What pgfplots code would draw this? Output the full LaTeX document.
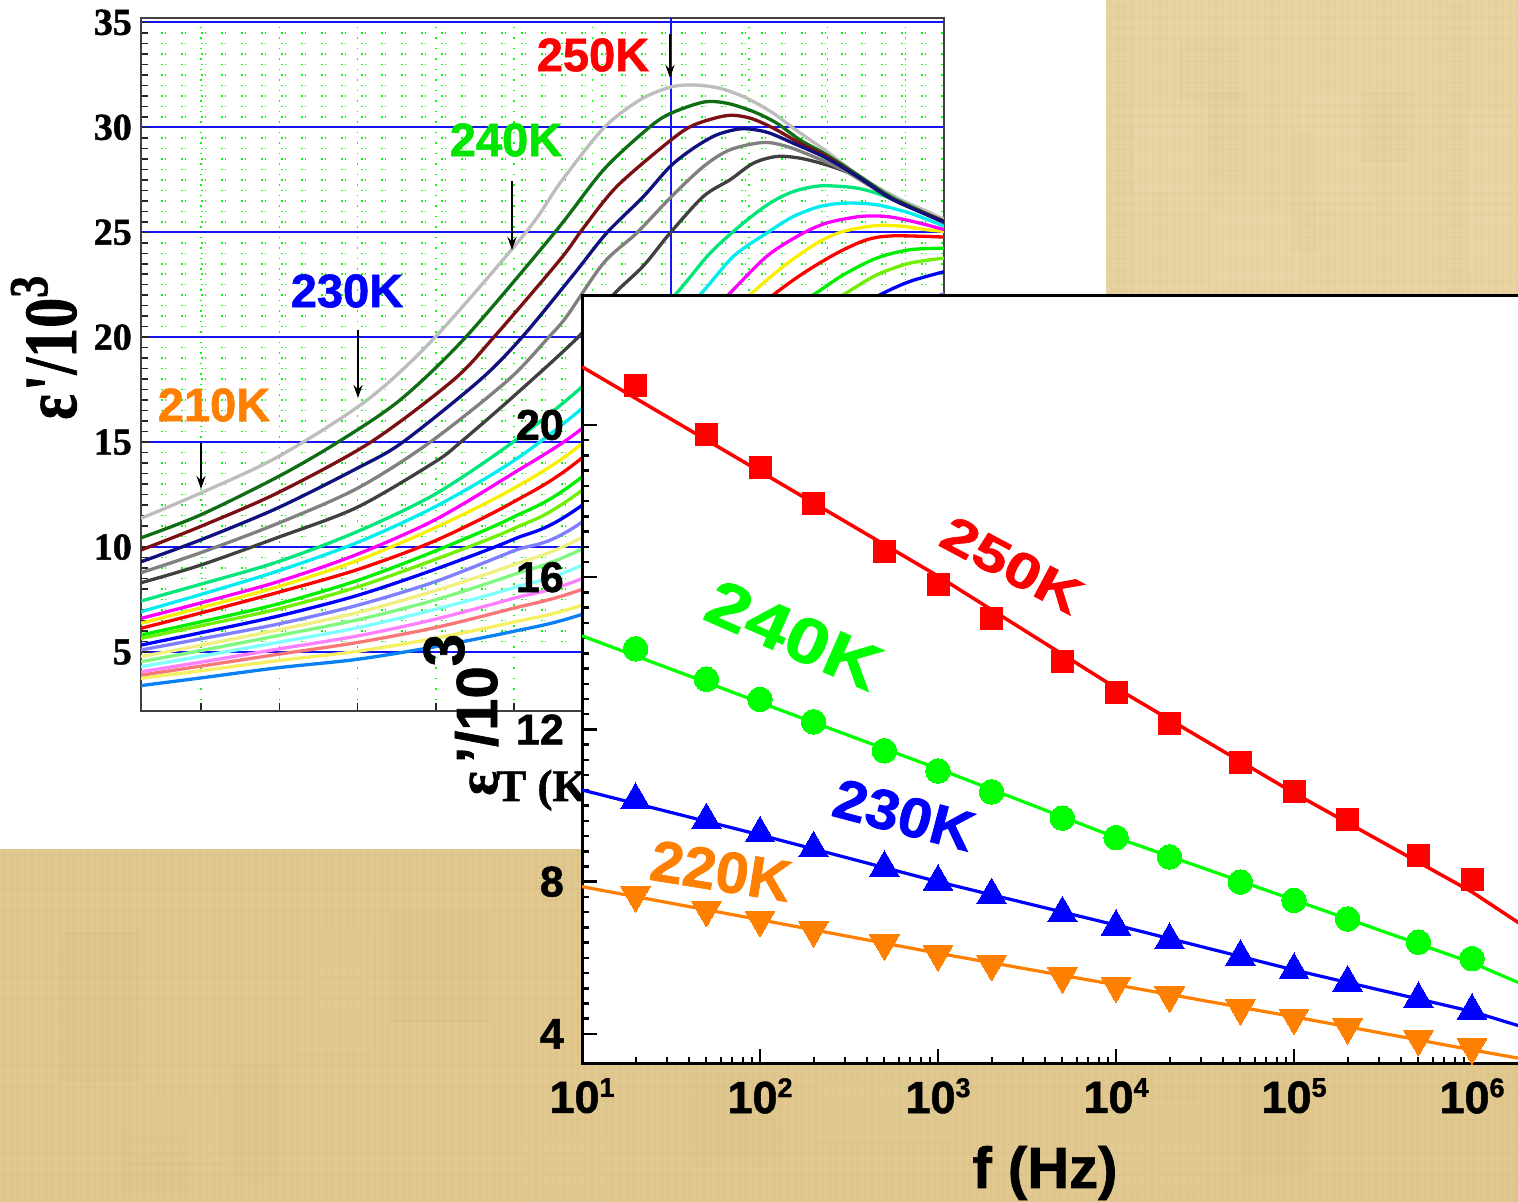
\documentclass[border=0pt]{standalone}
\usepackage{fontspec}
\usepackage{pgfplots}
\usepackage{graphicx}
\pgfplotsset{compat=1.18}
\usetikzlibrary{arrows.meta}
\setmainfont[BoldFeatures={FakeBold=1.2}]{Liberation Sans}
\newfontfamily\plainsans{Liberation Sans}
\newfontfamily\serif[BoldFeatures={FakeBold=1.2}]{Liberation Serif}
\newcommand{\fs}[1]{\fontsize{#1}{#1}\selectfont}
\newcommand{\ee}[1]{10\raisebox{16pt}{\fs{27}#1}}
\definecolor{tanA}{HTML}{E8D4A2}
\definecolor{tanB}{HTML}{E0C88F}
\definecolor{tanD}{HTML}{B8965A}
\definecolor{tanL}{HTML}{F3E4BC}
\definecolor{cGray}{HTML}{BDBDBD}
\definecolor{cDkGreen}{HTML}{0F6E14}
\definecolor{cDkRed}{HTML}{7A1014}
\definecolor{cNavy}{HTML}{10107E}
\definecolor{cGrayB}{HTML}{808080}
\definecolor{cDkGray}{HTML}{404040}
\definecolor{cSpring}{HTML}{00E67A}
\definecolor{cCyan}{HTML}{00EEEE}
\definecolor{cMag}{HTML}{FF00FF}
\definecolor{cYel}{HTML}{F8F000}
\definecolor{cRed}{HTML}{FF0000}
\definecolor{cGreen}{HTML}{00F000}
\definecolor{cLime}{HTML}{70F000}
\definecolor{cBlue}{HTML}{0000FF}
\definecolor{cPeri}{HTML}{7F7FFF}
\definecolor{cLtYel}{HTML}{F0F080}
\definecolor{cLtGr}{HTML}{80F880}
\definecolor{cLtCy}{HTML}{80FFFF}
\definecolor{cLtMag}{HTML}{FF80FF}
\definecolor{cLtRed}{HTML}{F87878}
\definecolor{cLtYelB}{HTML}{F5F060}
\definecolor{cBlueB}{HTML}{0A80F5}
\definecolor{cOrange}{HTML}{FF8000}
\definecolor{gridBlue}{HTML}{1414F5}
\begin{document}
\begin{tikzpicture}[x=1pt,y=1pt]
\useasboundingbox (0,0) rectangle (1518,1202);
\clip (0,0) rectangle (1518,1202);
\fill[white] (0,0) rectangle (1518,1202);
% paper background
\fill[tanA] (1106,906) rectangle (1518,1202);
\fill[tanB] (0,0) rectangle (1518,353);
\begin{scope}
\clip (1106,906) rectangle (1518,1202) (0,0) rectangle (1518,353);
\foreach \x in {1111,1118,...,1518}{\draw[tanD,opacity=.06,line width=2pt] (\x,906)--(\x,1202);}
\foreach \y in {910,921,...,1202}{\draw[tanD,opacity=.05,line width=2pt] (1106,\y)--(1518,\y);}
\foreach \x in {4,11,...,1518}{\draw[tanD,opacity=.05,line width=2pt] (\x,0)--(\x,353);}
\foreach \y in {5,16,...,353}{\draw[tanD,opacity=.05,line width=2pt] (0,\y)--(1518,\y);}
\foreach \x/\y/\w/\h in {1112/906/22/296,1208/1020/38/90,1290/950/26/120,1448/906/22/296,1180/1100/60/60,1360/1040/50/70}{\fill[tanD,opacity=.04] (\x,\y) rectangle ++(\w,\h);}
\foreach \x/\y/\w/\h in {1135/1010/60/90,1300/1000/70/110,1465/930/45/160,1210/920/90/70}{\fill[tanL,opacity=.12] (\x,\y) rectangle ++(\w,\h);}
\foreach \x/\y/\w/\h in {60/120/80/150,230/20/50/120,390/180/100/110,690/40/90/90,1010/150/60/120,1240/30/70/100,1400/200/60/100,120/10/70/60}{\fill[tanD,opacity=.04] (\x,\y) rectangle ++(\w,\h);}
\foreach \x/\y/\w/\h in {130/40/90/70,300/150/70/120,820/60/130/60,1110/10/90/90,1330/140/80/90,520/0/90/70}{\fill[tanL,opacity=.08] (\x,\y) rectangle ++(\w,\h);}
\end{scope}
% ---------------- back chart: permittivity against temperature
\begin{axis}[name=back,at={(141pt,491pt)},anchor=south west,scale only axis,
  width=803pt,height=693pt,
  xmin=202.34,xmax=304.89,ymin=2.19,ymax=35.21,
  xtick={210,220,...,300},xticklabels={},
  ytick={5,10,...,35},minor y tick num=9,
  xtick pos=left,ytick pos=left,tick align=inside,
  major tick length=8pt,minor tick length=7pt,
  tick style={black!85,line width=1.5pt},
  axis line style={black!75,line width=2pt},
  grid=both,
  major y grid style={gridBlue,line width=1.8pt},
  minor y grid style={green,line width=1.5pt,dash pattern=on 1.5pt off 2pt on 1.5pt off 15pt},
  major x grid style={green,line width=1.5pt,dash pattern=on 1.5pt off 9pt},
  /pgf/number format/assume math mode=true,
  yticklabel style={font=\serif\bfseries\fs{38},inner sep=0pt,xshift=-9pt},
  every axis plot/.append style={line width=3.3pt,smooth,tension=0.5,no markers}]
\addplot[gridBlue,line width=1.8pt,sharp plot] coordinates {(270,2.19)(270,35.21)};
\addplot[cBlueB] coordinates {(202.34,3.40)(209.87,3.76)(219.83,4.25)(229.92,4.65)(239.89,5.25)(249.85,5.98)(258.4,6.76)(280,9.5)(305,14)};
\addplot[cLtYelB] coordinates {(202.34,3.75)(209.87,4.10)(219.83,4.59)(229.92,5.03)(239.89,5.65)(249.85,6.42)(258.4,7.20)(280,10)(305,15)};
\addplot[cLtRed] coordinates {(202.34,3.90)(209.87,4.32)(219.83,4.89)(229.92,5.45)(239.89,6.16)(249.85,7.08)(258.4,7.95)(280,11)(305,16)};
\addplot[cLtMag] coordinates {(202.34,4.06)(209.87,4.51)(219.83,5.14)(229.92,5.76)(239.89,6.56)(249.85,7.55)(258.4,8.46)(280,12)(305,17)};
\addplot[cLtCy] coordinates {(202.34,4.30)(209.87,4.79)(219.83,5.46)(229.92,6.15)(239.89,7.03)(249.85,8.05)(258.4,9.09)(280,13)(305,18)};
\addplot[cLtGr] coordinates {(202.34,4.54)(209.87,5.06)(219.83,5.78)(229.92,6.53)(239.89,7.48)(249.85,8.68)(258.4,9.86)(280,14)(305,19)};
\addplot[cLtYel] coordinates {(202.34,4.78)(209.87,5.31)(219.83,6.05)(229.92,6.87)(239.89,7.92)(249.85,9.15)(258.4,10.41)(280,15)(305,20)};
\addplot[cPeri] coordinates {(202.34,5.10)(209.87,5.62)(219.83,6.33)(229.92,7.22)(239.89,8.35)(249.85,9.81)(258.4,11.12)(285,18.5)(305,22.1)};
\addplot[cBlue] coordinates {(202.34,5.33)(209.87,5.91)(219.83,6.71)(229.92,7.69)(239.89,8.94)(249.85,10.36)(258.4,11.92)(285,19.5)(292,21.0)(296.72,22.02)(300.55,22.66)(305,23.13)};
\addplot[cLime] coordinates {(202.34,5.65)(209.87,6.24)(219.83,7.05)(229.92,8.09)(239.89,9.41)(249.85,10.87)(258.4,12.63)(285,20.4)(292.03,22.02)(296.3,22.97)(300.55,23.53)(305,23.77)};
\addplot[cGreen] coordinates {(202.34,5.81)(209.87,6.43)(219.83,7.29)(229.92,8.40)(239.89,9.81)(249.85,11.42)(258.4,13.27)(282,20.6)(288.2,22.02)(292.03,22.97)(296.3,23.77)(300.55,24.17)(305,24.24)};
\addplot[cRed] coordinates {(202.34,6.13)(209.87,6.85)(219.83,7.84)(229.92,8.92)(239.89,10.30)(249.85,12.14)(258.4,14.17)(277,20.2)(283.1,22.02)(286.93,23.05)(291.18,24.0)(295,24.64)(298.4,24.83)(305,24.77)};
\addplot[cYel] coordinates {(202.34,6.37)(209.87,7.10)(219.83,8.11)(229.92,9.35)(239.89,10.92)(249.85,12.78)(258.4,14.85)(274,19.9)(280.1,22.02)(284.37,23.37)(288.63,24.48)(292.03,25.04)(296.3,25.32)(299.7,25.28)(302.68,25.12)(305,25.04)};
\addplot[cMag] coordinates {(202.34,6.60)(209.87,7.33)(219.83,8.35)(229.92,9.65)(239.89,11.30)(249.85,13.51)(258.4,15.57)(271,19.6)(277.35,22.02)(282.24,23.85)(286.5,24.88)(289.9,25.44)(294.16,25.75)(297.57,25.75)(300.98,25.51)(305,25.12)};
\addplot[cCyan] coordinates {(202.34,6.92)(209.87,7.73)(219.83,8.86)(229.92,10.21)(239.89,11.92)(249.85,14.09)(258.4,16.52)(267,19.4)(273.73,22.02)(277.99,23.85)(282.24,24.96)(285.65,25.75)(289.06,26.23)(292.46,26.39)(296.3,26.31)(300.55,25.91)(305,25.28)};
\addplot[cSpring] coordinates {(202.34,7.43)(209.87,8.22)(219.83,9.30)(229.92,10.73)(239.89,12.52)(249.85,15.0)(258.4,17.55)(264.5,19.85)(270.54,22.02)(275,24.0)(279.26,25.44)(282.67,26.39)(285.65,26.94)(289.06,27.21)(293.3,27.13)(296.3,26.86)(300.55,26.23)(305,25.51)};
\addplot[cDkGray] coordinates {(202.34,8.30)(209.87,9.13)(219.83,10.46)(229.92,11.89)(239.89,14.06)(243.1,14.98)(249.85,17.16)(258.15,20)(262.66,22.02)(266.5,23.4)(269.9,24.96)(274.16,26.71)(277.56,27.5)(280.54,28.29)(283.52,28.61)(286.5,28.53)(289.9,28.21)(293.3,27.74)(298.4,26.72)(305,25.43)};
\addplot[cGrayB] coordinates {(202.34,8.78)(209.87,9.72)(219.83,11.13)(229.92,12.79)(239.2,14.98)(249.2,17.95)(254.4,20)(256.7,20.99)(261.4,23.53)(265.64,24.96)(269.9,26.63)(274.16,28.13)(277.56,28.93)(281.82,29.28)(284.8,29.09)(288.2,28.61)(292.03,27.97)(296.3,27.02)(300.55,26.23)(305,25.43)};
\addplot[cGray] coordinates {(202.34,11.37)(209.87,12.56)(219.83,14.30)(231.2,17)(239.9,20)(251.5,25)(255.85,27.34)(261.4,29.96)(266.07,31.31)(269.9,31.91)(272.88,32.02)(276.28,31.86)(279.7,31.39)(283.1,30.67)(285.65,29.96)(289.9,28.85)(294.16,27.66)(298.4,26.72)(302.7,26.0)(305,25.6)};
\addplot[cDkGreen] coordinates {(202.34,10.44)(209.87,11.52)(219.83,13.35)(227.4,14.98)(235.4,17)(243.8,20)(255.2,25)(261.4,27.97)(267.13,29.96)(269.9,30.65)(274.16,31.2)(277.14,31.15)(280.54,30.75)(283.52,30.2)(286.5,29.4)(289.9,28.69)(294.16,27.66)(298.4,26.63)(305,25.51)};
\addplot[cDkRed] coordinates {(202.34,9.86)(209.87,10.97)(219.83,12.59)(231.6,14.98)(242.2,17.95)(247.4,20)(255.85,23.69)(258.83,25.2)(263.1,27.18)(269.7,29.3)(272.88,30.1)(277.14,30.56)(280.1,30.44)(283.1,29.96)(286.5,29.24)(289.9,28.61)(294.16,27.58)(298.4,26.55)(305,25.51)};
\addplot[cNavy] coordinates {(202.34,9.30)(209.87,10.33)(219.83,11.87)(229.92,13.75)(235.7,14.98)(245.6,17.95)(251,20)(257.55,22.97)(261.8,24.96)(266.5,26.7)(269.9,28.13)(272.88,29.0)(275.86,29.64)(279.05,29.93)(282.24,29.77)(285.65,29.24)(289.9,28.53)(294.16,27.58)(298.4,26.55)(305,25.47)};
\end{axis}
% labels of the back chart
\node[font=\bfseries\fs{47},text=red] at (593,1147) {250K};
\node[font=\bfseries\fs{47},text={rgb,255:red,0;green,230;blue,0}] at (506,1062) {240K};
\node[font=\bfseries\fs{47},text=blue] at (347,911) {230K};
\node[font=\bfseries\fs{47},text=cOrange] at (214,797) {210K};
\draw[line width=1.5pt,-{Stealth[length=13pt,width=9pt]}] (670,1168)--(670,1124);
\draw[line width=1.5pt,-{Stealth[length=13pt,width=9pt]}] (512,1021)--(512,952);
\draw[line width=1.5pt,-{Stealth[length=13pt,width=9pt]}] (358,872)--(358,804);
\draw[line width=1.5pt,-{Stealth[length=13pt,width=9pt]}] (201,759)--(201,713);
\node[rotate=90,anchor=base west,inner sep=0pt,font=\serif\bfseries\fs{60}] at (76,782) {\scalebox{1}[1.25]{ε\kern3pt'/10\raisebox{23pt}{\fs{44}3}}};
\node[anchor=base west,inner sep=0pt,font=\serif\bfseries\fs{45}] at (496,401) {T (K)};
% ---------------- front chart: permittivity against frequency
\begin{axis}[name=front,at={(582pt,138pt)},anchor=south west,scale only axis,
  width=1000pt,height=768pt,
  xmode=log,log basis x=10,
  xmin=10,xmax=4150000,ymin=3.21,ymax=23.39,
  xtick={10,100,1000,10000,100000,1000000},
  xticklabels={\ee{1},\ee{2},\ee{3},\ee{4},\ee{5},\ee{6}},
  minor xtick={20,30,40,50,60,70,80,90,200,300,400,500,600,700,800,900,2000,3000,4000,5000,6000,7000,8000,9000,20000,30000,40000,50000,60000,70000,80000,90000,200000,300000,400000,500000,600000,700000,800000,900000,2000000,3000000},
  ytick={4,8,12,16,20},minor y tick num=9,
  xtick pos=left,ytick pos=left,tick align=inside,
  major tick length=15pt,minor tick length=7pt,
  x tick style={black,line width=2pt},
  y tick style={black,line width=2.5pt},
  axis line style={black,line width=3pt},
  axis background/.style={fill=white},
  /pgf/number format/assume math mode=true,
  yticklabel style={font=\bfseries\fs{43},inner sep=0pt,xshift=-18pt},
  xticklabel style={font=\bfseries\fs{45},inner sep=0pt,yshift=-14pt}]
% fitted lines
\addplot[cRed,line width=3.5pt] coordinates {(10,21.53)(100,18.78)(1000,16.03)(10000,13.09)(100000,10.33)(1000000,7.73)(2000000,6.80)};
\addplot[green,line width=3.2pt] coordinates {(10,14.46)(100,12.71)(1000,10.97)(10000,9.16)(100000,7.52)(1000000,5.87)(2000000,5.27)};
\addplot[blue,line width=3.2pt] coordinates {(10,10.41)(100,9.23)(1000,8.00)(10000,6.86)(100000,5.68)(1000000,4.59)(2000000,4.16)};
\addplot[cOrange,line width=3.2pt] coordinates {(10,7.87)(100,7.00)(1000,6.12)(10000,5.29)(100000,4.45)(1000000,3.58)(2000000,3.33)};
% measured points
\addplot[only marks,mark=square*,mark size=11pt,draw=red,fill=red,mark options={line width=0pt}] coordinates {(20,21.03)(50,19.76)(100,18.88)(200,17.93)(500,16.68)(1000,15.80)(2000,14.91)(5000,13.79)(10000,12.96)(20000,12.16)(50000,11.13)(100000,10.38)(200000,9.64)(500000,8.70)(1000000,8.07)};
\addplot[only marks,mark=*,mark size=12.3pt,draw=green,fill=green,mark options={line width=0pt}] coordinates {(20,14.12)(50,13.32)(100,12.79)(200,12.20)(500,11.44)(1000,10.91)(2000,10.36)(5000,9.67)(10000,9.16)(20000,8.65)(50000,7.99)(100000,7.51)(200000,7.02)(500000,6.41)(1000000,5.98)};
\addplot[only marks,mark=triangle*,mark size=17pt,draw=blue,fill=blue,mark options={line width=0pt}] coordinates {(20,10.15)(50,9.62)(100,9.27)(200,8.88)(500,8.37)(1000,8.00)(2000,7.65)(5000,7.17)(10000,6.82)(20000,6.47)(50000,6.03)(100000,5.68)(200000,5.35)(500000,4.92)(1000000,4.61)};
\addplot[only marks,mark=triangle*,mark size=17pt,draw=cOrange,fill=cOrange,mark options={line width=0pt,rotate=180}] coordinates {(20,7.65)(50,7.26)(100,7.00)(200,6.73)(500,6.38)(1000,6.10)(2000,5.84)(5000,5.52)(10000,5.27)(20000,5.01)(50000,4.68)(100000,4.43)(200000,4.18)(500000,3.87)(1000000,3.65)};
\end{axis}
% labels of the front chart
\node[rotate=-28,text=red,font=\bfseries\fs{50}] at (1012,637) {\scalebox{1.27}[1]{250K}};
\node[rotate=-23.7,text=green,font=\bfseries\fs{64}] at (794,567) {\scalebox{1.2}[1]{240K}};
\node[rotate=-14.8,text=blue,font=\bfseries\fs{56}] at (904,387) {\scalebox{1.07}[1]{230K}};
\node[rotate=-9.2,text=cOrange,font=\bfseries\fs{58}] at (721,331) {\scalebox{1.02}[1]{220K}};
\node[anchor=base,inner sep=0pt,font=\bfseries\fs{58}] at (1045,14) {f (Hz)};
\node[rotate=90,anchor=base west,inner sep=0pt,font=\bfseries\fs{58}] at (497,406) {{\serif ε}\kern8pt'/10\raisebox{33pt}{3}};
\end{tikzpicture}
\end{document}
